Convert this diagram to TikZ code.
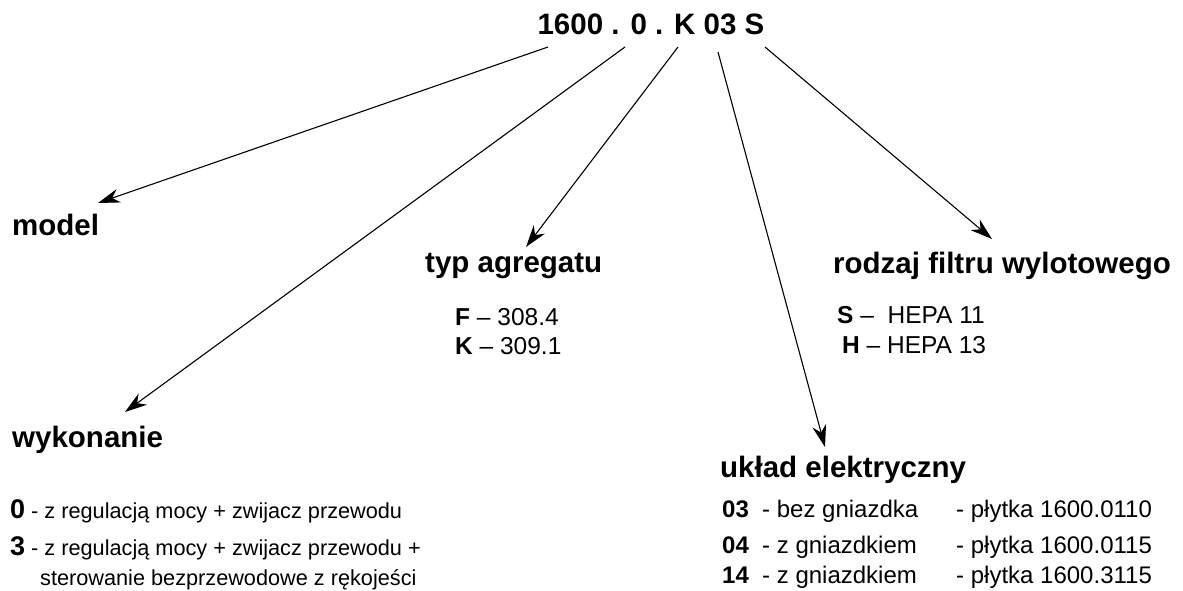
\documentclass[tikz,border=0pt]{standalone}
\usepackage{fontspec}
\setmainfont{Liberation Sans}
\usepackage{tikz}
\usetikzlibrary{arrows.meta,positioning,calc}

\begin{document}
\begin{tikzpicture}
[x=1pt,y=1pt,
every node/.style={inner sep=0pt,anchor=base west},
head/.style={font=\fontsize{29.5}{32}\selectfont\bfseries},
item/.style={font=\fontsize{21.7}{24}\selectfont},
code/.style={font=\fontsize{24.5}{27}\selectfont},
plate/.style={font=\fontsize{24}{27}\selectfont},
pointer/.style={line width=1.1pt,-{Stealth[length=22pt,width=14pt,inset=7pt]}}]
\useasboundingbox (0,0) rectangle (1183,590);
\node[head,anchor=base] (code) at (651,555) {1600 . 0 . K 03 S};
\coordinate (smodel) at (548,543);
\coordinate (swyk) at (625,543);
\coordinate (styp) at (678,543);
\coordinate (sukl) at (718,538);
\coordinate (srodz) at (765,543);
\coordinate (tmodel) at (98,387);
\coordinate (twyk) at (125,178);
\coordinate (ttyp) at (526,343);
\coordinate (tukl) at (825,143);
\coordinate (trodz) at (992,351);
\node[head] (model) at (12,355) {model};
\node[head] (typ) at (425,318) {typ agregatu};
\node[head] (rodz) at (833,317) {rodzaj filtru wylotowego};
\node[head] (wyk) at (12,143) {wykonanie};
\node[head] (ukl) at (720,113) {układ elektryczny};
\node[code] (typF) at (455,265) {\textbf{F} – 308.4};
\node[code] (typK) at (455,236) {\textbf{K} – 309.1};
\node[code] (rodzS) at (837,267) {\textbf{S} –\ \ HEPA 11};
\node[code] (rodzH) at (842,237) {\textbf{H} – HEPA 13};
\node[item] (wyk0) at (10,72) {{\fontsize{27}{30}\selectfont\bfseries 0} - z regulacją mocy + zwijacz przewodu};
\node[item] (wyk3) at (10,35) {{\fontsize{27}{30}\selectfont\bfseries 3} - z regulacją mocy + zwijacz przewodu +};
\node[item] (wyk3b) at (40,5) {sterowanie bezprzewodowe z rękojeści};
% uklad elektryczny
\foreach \n/\c/\t/\p/\y in {a/03/bez gniazdka/0110/73, b/04/z gniazdkiem/0115/37, c/14/z gniazdkiem/3115/7}{
\node[plate] (ukl\n) at (722,\y) {\textbf{\c}};
\node[plate] (ukl\n d) at (762,\y) {- \t};
\node[plate] (ukl\n p) at (956,\y) {- płytka 1600.\p};
}
\draw[pointer] (smodel) -- (tmodel);
\draw[pointer] (swyk) -- (twyk);
\draw[pointer] (styp) -- (ttyp);
\draw[pointer] (sukl) -- (tukl);
\draw[pointer] (srodz) -- (trodz);
\end{tikzpicture}
\end{document}
